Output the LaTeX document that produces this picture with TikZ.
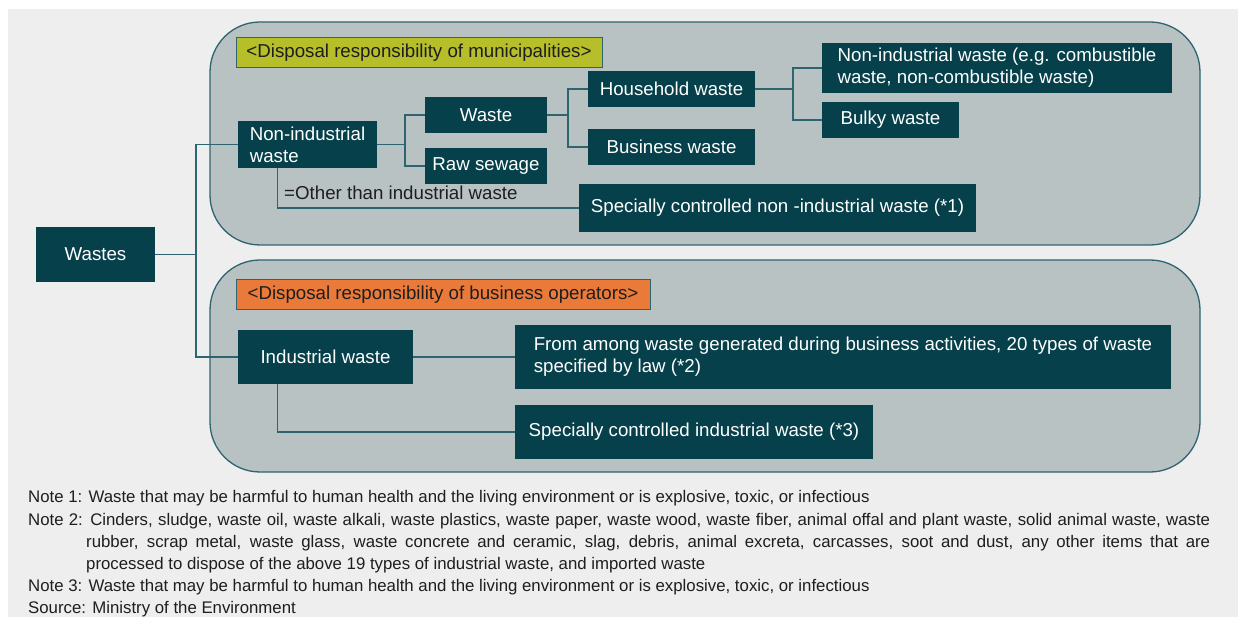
\documentclass[tikz,border=0pt]{standalone}
\usepackage{fontspec}
\setmainfont{Liberation Sans}
\definecolor{bgc}{HTML}{EEEEEE}
\definecolor{regc}{HTML}{B9C2C3}
\definecolor{boxc}{HTML}{06404B}
\definecolor{linec}{HTML}{2E6470}
\definecolor{yelc}{HTML}{B6BE2A}
\definecolor{orac}{HTML}{E97A3A}
\definecolor{txtc}{HTML}{1E1E1E}
\newcommand{\boxfont}{\fontsize{18.7}{22}\selectfont}
\newcommand{\notefont}{\fontsize{16.8}{22}\selectfont}
\tikzset{
  box/.style={fill=boxc, text=white, inner sep=0pt, font=\boxfont, align=center},
  lbox/.style={fill=boxc, text=white, inner sep=0pt, font=\boxfont, align=left},
  region/.style={fill=regc, draw=linec, line width=1.3pt, rounded corners=50pt},
  label/.style={draw=linec, line width=1pt, text=txtc, font=\boxfont, inner sep=0pt},
  conn/.style={draw=linec, line width=1.3pt},
  note/.style={text=txtc, font=\notefont, inner sep=0pt, anchor=base west},
}
\begin{document}
\begin{tikzpicture}[x=1pt,y=-1pt]
\useasboundingbox (0,0) rectangle (1240,617);
\fill[white] (0,0) rectangle (1240,617);
\fill[bgc] (8,9) rectangle (1238,617);
% regions
\path[region] (210,22) rectangle (1200,245);
\path[region] (210,260) rectangle (1200,472);
% labels
\node[label, fill=yelc, minimum width=366pt, minimum height=30pt] (lab1) at (419,53) {<Disposal responsibility of municipalities>};
\node[label, fill=orac, minimum width=414pt, minimum height=30pt] (lab2) at (443,295) {<Disposal responsibility of business operators>};
% boxes
\node[box, minimum width=119pt, minimum height=55pt] (wastes) at (95.5,254.5) {Wastes};
\node[lbox, minimum width=139pt, minimum height=47pt] (nonind) at (307.5,144.5) {Non-industrial\\waste\hspace*{60pt}};
\node[box, minimum width=122pt, minimum height=36pt] (waste) at (486,115) {Waste};
\node[box, minimum width=122pt, minimum height=36pt] (raw) at (486,166) {Raw sewage};
\node[box, minimum width=167pt, minimum height=36pt] (house) at (671.5,89) {Household waste};
\node[box, minimum width=167pt, minimum height=36pt] (business) at (671.5,147) {Business waste};
\node[lbox, minimum width=350pt, minimum height=50pt] (nieg) at (997,68) {Non-industrial waste (e.g. combustible\\waste, non-combustible waste)};
\node[box, minimum width=137pt, minimum height=36pt] (bulky) at (890.5,120) {Bulky waste};
\node[box, minimum width=397pt, minimum height=48pt] (scni) at (777.5,208) {Specially controlled non -industrial waste (*1)};
\node[box, minimum width=175pt, minimum height=54pt] (ind) at (325.5,357) {Industrial waste};
\node[lbox, minimum width=656pt, minimum height=64pt] (from) at (843,357) {From among waste generated during business activities, 20 types of waste\\specified by law (*2)};
\node[box, minimum width=358pt, minimum height=54pt] (sci) at (694,432) {Specially controlled industrial waste (*3)};
\node[note, font=\boxfont] (other) at (284,200) {=Other than industrial waste};
% junction coordinates
\coordinate (t1) at (196,254.5);
\coordinate (j2) at (405,144.5);
\coordinate (j3) at (568,115);
\coordinate (j4) at (793,89);
% connectors
\draw[conn] (wastes.east) -- (t1);
\draw[conn] (nonind.west) -| (t1) |- (ind.west);
\draw[conn] (nonind.east) -- (j2);
\draw[conn] (waste.west) -| (j2);
\draw[conn] (raw.west) -| (j2);
\draw[conn] (waste.east) -- (j3);
\draw[conn] (house.west) -| (j3);
\draw[conn] (business.west) -| (j3);
\draw[conn] (house.east) -- (j4);
\draw[conn] (nieg.west) -| (j4);
\draw[conn] (bulky.west) -| (j4);
\draw[conn] ([xshift=40pt]nonind.south west) |- (scni.west);
\draw[conn] (ind.east) -- (from.west);
\draw[conn] ([xshift=40pt]ind.south west) |- (sci.west);
% notes
\node[note] (n1) at (28,502.5) {Note 1: Waste that may be harmful to human health and the living environment or is explosive, toxic, or infectious};
\node[note] (n2a) at (28,525) {\hbox to 1182pt{Note 2: Cinders, sludge, waste oil, waste alkali, waste plastics, waste paper, waste wood, waste fiber, animal offal and plant waste, solid animal waste, waste}};
\node[note] (n2b) at (86,547) {\hbox to 1124pt{rubber, scrap metal, waste glass, waste concrete and ceramic, slag, debris, animal excreta, carcasses, soot and dust, any other items that are}};
\node[note] (n2c) at (86,569) {processed to dispose of the above 19 types of industrial waste, and imported waste};
\node[note] (n3) at (28,591) {Note 3: Waste that may be harmful to human health and the living environment or is explosive, toxic, or infectious};
\node[note] (src) at (28,613) {Source: Ministry of the Environment};
\end{tikzpicture}
\end{document}
